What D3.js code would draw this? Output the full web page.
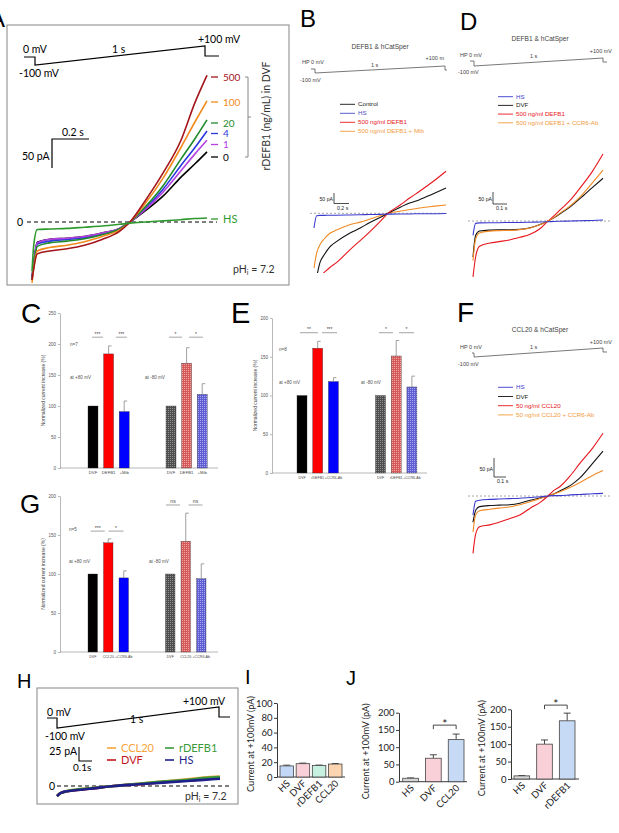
<!DOCTYPE html>
<html><head><meta charset="utf-8">
<script src="https://cdn.jsdelivr.net/npm/d3@7"></script>
<style>body{margin:0;background:#fff}svg{display:block}</style>
</head><body>
<script>
// ================= DATA =================
// Panel A: normalized ramp time and currents (pA)
const aTime = [0,0.01,0.03,0.1,0.2,0.3,0.4,0.5,0.56,0.65,0.75,0.85,0.93,1.0];
const aI0   = [-95,-70,-35,-30,-28,-25,-19,-11,0,20,45,77,100,121];
const aI1   = [-100,-72,-36,-30,-28,-25,-19,-11,0,22,52,88,117,141];
const aI4   = [-98,-72,-38,-33,-30,-27,-21,-12,0,24,57,97,128,157];
const aI20  = [-100,-75,-42,-36,-33,-29,-22,-12,0,27,63,108,143,176];
const aI100 = [-105,-80,-50,-44,-40,-34,-25,-14,0,33,76,128,172,209];
const aI500 = [-100,-80,-55,-50,-46,-40,-30,-16,0,38,85,140,205,253];
const aIHS  = [-85,-40,-13,-12,-11,-9,-7,-4,-2,0,2,4,6,7];
const aLabels = ["500","100","20","4","1","0"];

// Panel B
const bTime   = [0,0.02,0.045,0.08,0.12,0.17,0.27,0.35,0.42,0.5,0.56,0.65,0.73,0.8,0.9,1.0];
const bControl= [-340,-300,-235,-195,-160,-135,-95,-70,-45,-20,0,28,50,65,92,120];
const bHS     = [-70,-12,-10,-10,-9,-9,-8,-7,-6,-5,-4,-3,-3,-2,-2,-1];
const bDEFB1  = [-330,-315,-300,-280,-258,-235,-175,-130,-90,-40,0,38,75,105,150,200];
const bMib    = [-260,-190,-150,-120,-95,-80,-55,-42,-28,-12,0,10,18,25,33,40];
const bLegend = ["Control","HS","500 ng/ml DEFB1","500 ng/ml DEFB1 + Mib"];

// Panel D
const dTime  = [0,0.02,0.05,0.13,0.2,0.28,0.36,0.44,0.52,0.577,0.62,0.67,0.75,0.82,0.92,1.0];
const dHS    = [-60,-10,-8,-7,-7,-6,-6,-5,-4,-3,-2,-1,0,1,2,4];
const dDVF   = [-150,-60,-42,-38,-37,-37,-35,-28,-14,0,12,30,60,92,140,178];
const dDEFB1 = [-233,-150,-105,-92,-86,-79,-68,-55,-30,0,20,46,88,135,208,279];
const dAb    = [-165,-75,-50,-42,-40,-39,-36,-29,-15,0,13,33,64,98,160,212];
const dLegend = ["HS","DVF","500 ng/ml DEFB1","500 ng/ml DEFB1 + CCR6-Ab"];

// Panel F
const fTime  = [0,0.02,0.05,0.13,0.2,0.28,0.36,0.44,0.52,0.577,0.62,0.67,0.75,0.82,0.92,1.0];
const fHS    = [-50,-14,-11,-9,-8,-7,-6,-4,-2,0,1,1,3,4,6,7];
const fDVF   = [-69,-38,-28,-25,-24,-23,-19,-11,-5,0,5,14,28,47,86,118];
const fCCL20 = [-151,-101,-81,-76,-69,-60,-50,-32,-16,0,14,25,54,85,126,165];
const fAb    = [-95,-50,-39,-35,-32,-29,-23,-15,-6,0,5,11,23,35,54,67];
const fLegend = ["HS","DVF","50 ng/ml CCL20","50 ng/ml CCL20 + CCR6-Ab"];

// Panel C / E / G bar data (% normalized)
const cCats = ["DVF","DEFB1","+Mib","DVF","DEFB1","+Mib"];
const cVals = [100,184,91,100,169,119];
const cErrs = [0,13,17,0,25,17];
const eCats = ["DVF","rDEFB1","+CCR6-Ab","DVF","rDEFB1","+CCR6-Ab"];
const eVals = [100,161,118,100,151,111];
const eErrs = [0,9,5,0,20,14];
const gCats = ["DVF","CCL20","+CCR6-Ab","DVF","CCL20","+CCR6-Ab"];
const gVals = [100,140,95,100,142,94];
const gErrs = [0,5,9,0,36,19];
const pctTicks200 = [0,50,100,150,200];
const pctTicks250 = [0,50,100,150,200,250];

// Panel H
const hTime   = [0,0.02,0.05,0.1,0.2,0.35,0.5,0.65,0.8,0.9,1.0];
const hCCL20  = [-18,-13,-10,-7,-4,0,4,8,12,15,17];
const hDVF    = [-18,-13,-10,-8,-5,0,3,7,10,12,14];
const hDEFB1  = [-18,-13,-10,-7,-4,0,4,8,11,14,16];
const hHS     = [-18,-13,-10,-8,-5,0,3,6,9,11,13];
const hLegend = ["CCL20","DVF","rDEFB1","HS"];

// Panel I
const iCats = ["HS","DVF","rDEFB1","CCL20"];
const iVals = [15,18,15.5,17.5];
const iErrs = [1,0.8,0.6,0.7];
const iTicks = [0,20,40,60,80,100];
// Panel J
const j1Cats = ["HS","DVF","CCL20"];
const j1Vals = [10,68,122];
const j1Errs = [1,10,16];
const j2Cats = ["HS","DVF","rDEFB1"];
const j2Vals = [9,100,167];
const j2Errs = [1,12,22];
const jTicks = [0,50,100,150,200];

// ================= DRAW =================
const SANS = "'Liberation Sans', Arial, sans-serif";
const CAL = "Lato, 'Open Sans', sans-serif";
const svg = d3.select("body").append("svg").attr("width",619).attr("height",833);
svg.append("rect").attr("width",619).attr("height",833).attr("fill","#fff");
const defs = svg.append("defs");

function txt(x,y,s,o={}) {
  const t = svg.append("text").attr("x",x).attr("y",y).text(s)
    .attr("font-family",o.ff||SANS).attr("font-size",o.fs||10).attr("fill",o.fill||"#000");
  if (o.anchor) t.attr("text-anchor",o.anchor);
  if (o.rot!=null) t.attr("transform",`rotate(${o.rot},${x},${y})`);
  return t;
}
function poly(pts,o={}) {
  return svg.append("path").attr("d",d3.line()(pts)).attr("fill","none")
    .attr("stroke",o.stroke||"#000").attr("stroke-width",o.sw||1)
    .attr("stroke-dasharray",o.dash||null);
}
function traces(time, series, xs, ys, sw, clipId) {
  const line = d3.line().x((d,i)=>xs(time[i])).y(d=>ys(d)).curve(d3.curveMonotoneX);
  const g = svg.append("g");
  if (clipId) g.attr("clip-path",`url(#${clipId})`);
  series.forEach(s => g.append("path").attr("d",line(s.v)).attr("fill","none")
    .attr("stroke",s.c).attr("stroke-width",sw).attr("stroke-linejoin","round"));
}
function clip(id,x,y,w,h){ defs.append("clipPath").attr("id",id).append("rect").attr("x",x).attr("y",y).attr("width",w).attr("height",h); }

// ---------- Panel letters ----------
txt(-11,27,"A",{fs:24});
txt(300,27,"B",{fs:24});
txt(460,30,"D",{fs:24});
txt(21,323,"C",{fs:28});
txt(231,323,"E",{fs:29});
txt(457,322,"F",{fs:28});
txt(20,513,"G",{fs:26});
txt(17,688,"H",{fs:20});
txt(245,684,"I",{fs:20});
txt(346,685,"J",{fs:20});

// ---------- Panel A ----------
svg.append("rect").attr("x",7).attr("y",25).attr("width",282).attr("height",260)
  .attr("fill","none").attr("stroke","#9a9a9a").attr("stroke-width",1.2);
poly([[24,57],[35,57],[35,65],[205,46],[205,56],[219,56]],{sw:1.2});
txt(23,53,"0 mV",{ff:CAL,fs:10.5});
txt(19,77,"-100 mV",{ff:CAL,fs:10.5});
txt(112,53,"1 s",{ff:CAL,fs:10.5});
txt(219,43,"+100 mV",{ff:CAL,fs:10.5,anchor:"middle"});
{
  const xA = d3.scaleLinear().domain([0,1]).range([32,207]);
  const yA = d3.scaleLinear().domain([0,100]).range([222,164]);
  // scale bar
  poly([[89,139],[52,139],[52,139+(yA(0)-yA(50))]],{sw:1.2});
  txt(62,136,"0.2 s",{ff:CAL,fs:10.5});
  txt(22,160,"50 pA",{ff:CAL,fs:10.5});
  poly([[27,yA(0)],[217,yA(0)]],{dash:"4,3",sw:1.2});
  txt(17,226,"0",{ff:CAL,fs:10.5});
  const colA = {"500":"#a3151b","100":"#f28a1c","20":"#1f8a2a","4":"#2b39e0","1":"#b340e0","0":"#000","HS":"#2e9a2e"};
  traces(aTime,[
    {v:aI0,c:colA["0"]},{v:aI4,c:colA["4"]},{v:aI1,c:colA["1"]},{v:aI20,c:colA["20"]},
    {v:aI100,c:colA["100"]},{v:aI500,c:colA["500"]},{v:aIHS,c:colA["HS"]}],xA,yA,1.6);
  const labY = [77,102,123,133.5,144.5,157];
  aLabels.forEach((l,i)=>{
    poly([[211,labY[i]],[218,labY[i]]],{stroke:colA[l],sw:1.3});
    txt(223,labY[i]+3.5,l,{ff:CAL,fs:10,fill:colA[l]});
  });
  poly([[211,219],[218,219]],{stroke:colA.HS,sw:1.3});
  txt(223,223,"HS",{ff:CAL,fs:11,fill:colA.HS});
  poly([[245,77],[248,77],[248,157],[245,157]],{stroke:"#888",sw:1});
  poly([[248,117],[251,117]],{stroke:"#888",sw:1});
  txt(270,116,"rDEFB1 (ng/mL) in DVF",{ff:CAL,fs:10.5,anchor:"middle",rot:-90,fill:"#333"});
  const ph = txt(233,273,"pH",{ff:CAL,fs:10.5,fill:"#333"});
  ph.append("tspan").attr("font-size",7).attr("dy",2).text("i");
  ph.append("tspan").attr("dy",-2).text(" = 7.2");
}

// ---------- Small trace panels (B, D, F) ----------
function smallPanel(p) {
  txt(p.titleX,p.titleY,p.title,{fs:6.6,anchor:"middle",fill:"#444"});
  poly(p.proto,{stroke:"#555",sw:0.8});
  txt(p.hpX,p.hpY,"HP 0 mV",{fs:5.5,fill:"#444"});
  txt(p.hpX-2,p.mY,"-100 mV",{fs:5.5,fill:"#444"});
  txt(p.sX,p.sY,"1 s",{fs:5.5,fill:"#444"});
  txt(p.pX,p.pY,p.pText,{fs:5.5,fill:"#444",anchor:"end"});
  p.legend.forEach((l,i)=>{
    const yy = p.legY + i*p.legDy;
    poly([[p.legX,yy],[p.legX+15,yy]],{stroke:p.colors[i],sw:0.9});
    txt(p.legX+18,yy+2,l,{fs:6.2,fill:p.textColors[i]});
  });
  const xs = d3.scaleLinear().domain([0,1]).range([p.tx0,p.tx1]);
  const ys = d3.scaleLinear().domain([0,50]).range([p.zeroY,p.zeroY-p.px50]);
  // scale bar
  poly([[p.sbX,p.sbY],[p.sbX,p.sbY+(ys(0)-ys(50))],[p.sbX+p.sbW,p.sbY+(ys(0)-ys(50))]],{stroke:"#222",sw:0.8});
  txt(p.sbX-1,p.sbY+(ys(0)-ys(50))/2+3,"50 pA",{fs:5.2,anchor:"end",fill:"#222"});
  txt(p.sbX+3,p.sbY+(ys(0)-ys(50))+6,p.sbT,{fs:5.2,fill:"#222"});
  poly([[p.dash0,ys(0)],[p.dash1,ys(0)]],{stroke:"#9a9a9a",sw:0.9,dash:"2,2"});
  traces(p.time,p.series,xs,ys,1.1,p.clip);
}
clip("clipB",300,150,165,123);
clip("clipD",460,150,159,128);
smallPanel({title:"DEFB1 & hCatSper",titleX:380,titleY:49,
  proto:[[311,69],[315,69],[315,73],[445,66],[445,70],[447,70]],
  hpX:302,hpY:64,mY:82,sX:371,sY:67,pX:444,pY:60,pText:"+100 m",
  legend:bLegend,legX:340,legY:104.3,legDy:9,
  colors:["#111","#4a4ac8","#e8141c","#f39a3c"],textColors:["#222","#4a4ac8","#e8141c","#f39a3c"],
  tx0:314,tx1:446,zeroY:213.3,px50:10.5,
  sbX:334,sbY:193,sbW:15,sbT:"0.2 s",dash0:310,dash1:447,time:bTime,clip:"clipB",
  series:[{v:bMib,c:"#f08a24"},{v:bControl,c:"#111"},{v:bDEFB1,c:"#e8141c"},{v:bHS,c:"#3a3ad0"}]});
smallPanel({title:"DEFB1 & hCatSper",titleX:540,titleY:41,
  proto:[[470,61],[474,61],[474,66],[603,58],[603,62],[607,62]],
  hpX:460,hpY:57,mY:74,sX:530,sY:58,pX:612,pY:53,pText:"+100 mV",
  legend:dLegend,legX:498,legY:96.7,legDy:8.7,
  colors:["#3a3ad0","#111","#e8141c","#f39a3c"],textColors:["#3a3ad0","#222","#e8141c","#f39a3c"],
  tx0:473,tx1:603,zeroY:221,px50:12,
  sbX:493,sbY:192,sbW:14,sbT:"0.1 s",dash0:468,dash1:612,time:dTime,clip:"clipD",
  series:[{v:dDVF,c:"#111"},{v:dDEFB1,c:"#e8141c"},{v:dAb,c:"#f08a24"},{v:dHS,c:"#3a3ad0"}]});
smallPanel({title:"CCL20 & hCatSper",titleX:540,titleY:332,
  proto:[[472,353],[474,353],[474,357],[603,348],[603,352],[607,352]],
  hpX:460,hpY:349,mY:366,sX:530,sY:349,pX:612,pY:344,pText:"+100 mV",
  legend:fLegend,legX:498,legY:387.3,legDy:9.2,
  colors:["#3a3ad0","#111","#e8141c","#f39a3c"],textColors:["#3a3ad0","#222","#e8141c","#f39a3c"],
  tx0:473,tx1:603,zeroY:496,px50:19,
  sbX:494,sbY:458,sbW:12,sbT:"0.1 s",dash0:468,dash1:612,time:fTime,clip:null,
  series:[{v:fDVF,c:"#111"},{v:fAb,c:"#f08a24"},{v:fCCL20,c:"#e8141c"},{v:fHS,c:"#3a3ad0"}]});

// ---------- Bar panels C, E, G ----------
function dotPattern(id,base,dot){
  const p = defs.append("pattern").attr("id",id).attr("patternUnits","userSpaceOnUse").attr("width",2).attr("height",2);
  p.append("rect").attr("width",2).attr("height",2).attr("fill",base);
  p.append("rect").attr("width",1).attr("height",1).attr("fill",dot);
}
dotPattern("pGrey","#4e4e4e","#8e8e8e");
dotPattern("pRed","#d45a5a","#f0a4a4");
dotPattern("pBlue","#5e5ed2","#a8a8f2");
const barFills = ["#000","#ff0000","#0000ff","url(#pGrey)","url(#pRed)","url(#pBlue)"];

function barPanel(c) {
  const y = d3.scaleLinear().domain([0,c.ymax]).range([c.yBase,c.yTop]);
  const slots = [0,1,2,5,6,7];
  const x = d3.scaleLinear().domain([0,7]).range([c.x0,c.x0+7*c.step]);
  const ax = svg.append("g").attr("transform",`translate(${c.axisX},0)`)
    .call(d3.axisLeft(y).tickValues(c.ticks).tickSize(2).tickPadding(2).tickSizeOuter(0));
  ax.select(".domain").attr("stroke","#888").attr("stroke-width",0.6);
  ax.selectAll(".tick line").attr("stroke","#888").attr("stroke-width",0.6);
  ax.selectAll(".tick text").attr("font-size",4.5).attr("fill","#555").attr("font-family",SANS);
  svg.append("line").attr("x1",c.axisX).attr("x2",c.xEnd).attr("y1",c.yBase).attr("y2",c.yBase)
    .attr("stroke","#888").attr("stroke-width",0.6);
  txt(c.axisX-15,(c.yBase+c.yTop)/2,"Normalized current increase (%)",{fs:5,anchor:"middle",rot:-90,fill:"#444"});
  c.vals.forEach((v,i)=>{
    const bx = x(slots[i]), cx = bx + c.bw/2;
    svg.append("rect").attr("x",bx).attr("y",y(v)).attr("width",c.bw).attr("height",y(0)-y(v))
      .attr("fill",barFills[i]).attr("stroke","#333").attr("stroke-width",0.35);
    if (c.errs[i]>0) {
      poly([[cx,y(v)],[cx,y(v+c.errs[i])]],{stroke:"#777",sw:0.7});
      poly([[cx,y(v+c.errs[i])],[cx+3,y(v+c.errs[i])]],{stroke:"#777",sw:0.7});
    }
    txt(cx,c.yBase+6,c.cats[i],{fs:c.catFs,anchor:"middle",fill:"#444"});
  });
  c.sig.forEach(s=>{
    const yy = y(s.lv);
    const mid = (x(slots[s.a])+x(slots[s.b]))/2 + c.bw/2 + s.off;
    poly([[mid-s.hw,yy],[mid+s.hw,yy]],{stroke:"#666",sw:0.6});
    txt(mid,yy-1.5,s.t,{fs:5,anchor:"middle",fill:"#444"});
  });
  c.notes.forEach(n=>txt(n[0],n[1],n[2],{fs:4.6,fill:"#555"}));
}
barPanel({ymax:250,yBase:468,yTop:313,axisX:60,xEnd:218,x0:88,step:15.6,bw:10,ticks:pctTicks250,
  cats:cCats,vals:cVals,errs:cErrs,catFs:4.2,
  sig:[{a:0,b:1,lv:211,off:-3.3,hw:5.5,t:"***"},{a:1,b:2,lv:211,off:5,hw:5.5,t:"***"},
       {a:3,b:4,lv:211,off:-3.3,hw:6.5,t:"*"},{a:4,b:5,lv:211,off:1.6,hw:7,t:"*"}],
  notes:[[70,346,"n=7"],[70,379,"at +80 mV"],[145,379,"at -80 mV"]]});
barPanel({ymax:200,yBase:473,yTop:318,axisX:272,xEnd:427,x0:297,step:15.7,bw:10,ticks:pctTicks200,
  cats:eCats,vals:eVals,errs:eErrs,catFs:3.6,
  sig:[{a:0,b:1,lv:181,off:-0.9,hw:9,t:"**"},{a:1,b:2,lv:181,off:4,hw:7.5,t:"***"},
       {a:3,b:4,lv:181,off:-2.4,hw:7,t:"*"},{a:4,b:5,lv:181,off:2.5,hw:7.5,t:"*"}],
  notes:[[279,351,"n=8"],[279,384,"at +80 mV"],[361,384,"at -80 mV"]]});
barPanel({ymax:200,yBase:652,yTop:496,axisX:60,xEnd:218,x0:88,step:15.5,bw:9.5,ticks:pctTicks200,
  cats:gCats,vals:gVals,errs:gErrs,catFs:3.6,
  sig:[{a:0,b:1,lv:155,off:-2.75,hw:7,t:"***"},{a:1,b:2,lv:155,off:0,hw:7.5,t:"*"},
       {a:3,b:4,lv:188.5,off:-5,hw:7,t:"ns"},{a:4,b:5,lv:188.5,off:2,hw:7,t:"ns"}],
  notes:[[69,531,"n=5"],[69,563,"at +80 mV"],[149,563,"at -80 mV"]]});

// ---------- Panel H ----------
svg.append("rect").attr("x",37).attr("y",688).attr("width",201).attr("height",116)
  .attr("fill","none").attr("stroke","#9a9a9a").attr("stroke-width",1.2);
poly([[47,718],[57,718],[57,728],[219,707],[219,717],[230,717]],{sw:1.2});
txt(47,716,"0 mV",{ff:CAL,fs:10.5});
txt(45,740,"-100 mV",{ff:CAL,fs:10.5});
txt(130,723,"1 s",{ff:CAL,fs:10.5});
txt(204,705,"+100 mV",{ff:CAL,fs:10.5,anchor:"middle"});
{
  const xH = d3.scaleLinear().domain([0,1]).range([57,220]);
  const yH = d3.scaleLinear().domain([0,25]).range([786,772]);
  poly([[79,761-(yH(0)-yH(25))],[79,761],[92,761]],{sw:1.1});
  txt(77,755,"25 pA",{ff:CAL,fs:10.5,anchor:"end"});
  txt(73,771,"0.1s",{ff:CAL,fs:10});
  const hCol = ["#f7a53a","#c4161c","#3a9a3a","#1f1f8a"];
  const hPos = [[107,748],[107,760],[165,748],[165,760]];
  hLegend.forEach((l,i)=>{
    poly([[hPos[i][0],hPos[i][1]],[hPos[i][0]+9,hPos[i][1]]],{stroke:hCol[i],sw:1.6});
    txt(hPos[i][0]+14,hPos[i][1]+4,l,{ff:CAL,fs:11,fill:hCol[i]});
  });
  poly([[57,yH(0)],[229,yH(0)]],{dash:"4,3",sw:1.2});
  txt(49,790,"0",{ff:CAL,fs:10.5});
  traces(hTime,[{v:hCCL20,c:hCol[0]},{v:hDVF,c:hCol[1]},{v:hDEFB1,c:hCol[2]},{v:hHS,c:hCol[3]}],xH,yH,2.6);
  const ph = txt(185,800,"pH",{ff:CAL,fs:10.5,fill:"#333"});
  ph.append("tspan").attr("font-size",7).attr("dy",2).text("i");
  ph.append("tspan").attr("dy",-2).text(" = 7.2");
}

// ---------- Panels I / J ----------
function gpBar(c) {
  const y = d3.scaleLinear().domain([0,c.ymax]).range([c.yBase,c.yTop]);
  const x = d3.scaleBand().domain(c.cats).range([c.xr0,c.xr1]).paddingInner(c.pi).paddingOuter(0);
  const ax = svg.append("g").attr("transform",`translate(${c.axisX},0)`)
    .call(d3.axisLeft(y).tickValues(c.ticks).tickSize(3).tickPadding(1.5).tickSizeOuter(0));
  ax.select(".domain").attr("stroke","#222").attr("stroke-width",0.9);
  ax.selectAll(".tick line").attr("stroke","#222").attr("stroke-width",0.9);
  ax.selectAll(".tick text").attr("font-size",9.5).attr("fill","#222").attr("font-family",CAL);
  svg.append("line").attr("x1",c.axisX).attr("x2",c.xEnd).attr("y1",c.yBase).attr("y2",c.yBase)
    .attr("stroke","#222").attr("stroke-width",0.9);
  txt(c.titleX,(c.yBase+c.yTop)/2+4,"Current at +100mV (pA)",{ff:CAL,fs:9.2,anchor:"middle",rot:-90,fill:"#222"});
  c.vals.forEach((v,i)=>{
    const bx = x(c.cats[i]), cx = bx + x.bandwidth()/2;
    const top = y(v+c.errs[i]);
    poly([[cx,y(v)],[cx,top]],{stroke:"#333",sw:0.9});
    poly([[cx-3.5,top],[cx+3.5,top]],{stroke:"#333",sw:0.9});
    svg.append("rect").attr("x",bx).attr("y",y(v)).attr("width",x.bandwidth()).attr("height",y(0)-y(v))
      .attr("fill",c.fills[i]).attr("stroke","#444").attr("stroke-width",0.8);
    txt(cx+4,c.yBase+7,c.cats[i],{ff:CAL,fs:9.5,anchor:"end",rot:-45,fill:"#222"});
  });
  if (c.sig) {
    const yy = y(c.sig.lv);
    const c1 = x(c.cats[c.sig.a])+x.bandwidth()/2, c2 = x(c.cats[c.sig.b])+x.bandwidth()/2;
    poly([[c1,yy+4],[c1,yy],[c2,yy],[c2,yy+4]],{stroke:"#333",sw:0.9});
    txt((c1+c2)/2,yy+3,"*",{ff:CAL,fs:12,anchor:"middle",fill:"#222"});
  }
}
gpBar({ymax:100,yBase:777,yTop:703,axisX:277,xEnd:345,xr0:280,xr1:342,pi:0.165,ticks:iTicks,
  cats:iCats,vals:iVals,errs:iErrs,fills:["#c3d7f6","#f9d0d8","#c6f0df","#fcd4b0"],titleX:254});
gpBar({ymax:200,yBase:781.7,yTop:712.7,axisX:399,xEnd:467,xr0:402.7,xr1:464,pi:0.31,ticks:jTicks,
  cats:j1Cats,vals:j1Vals,errs:j1Errs,fills:["#d6d6d6","#f9d0d8","#c6daf5"],titleX:369,
  sig:{a:1,b:2,lv:164}});
gpBar({ymax:200,yBase:779,yTop:709.3,axisX:511,xEnd:579,xr0:514,xr1:575,pi:0.31,ticks:jTicks,
  cats:j2Cats,vals:j2Vals,errs:j2Errs,fills:["#d6d6d6","#f9d0d8","#c6daf5"],titleX:485,
  sig:{a:1,b:2,lv:212}});
</script>
</body></html>
